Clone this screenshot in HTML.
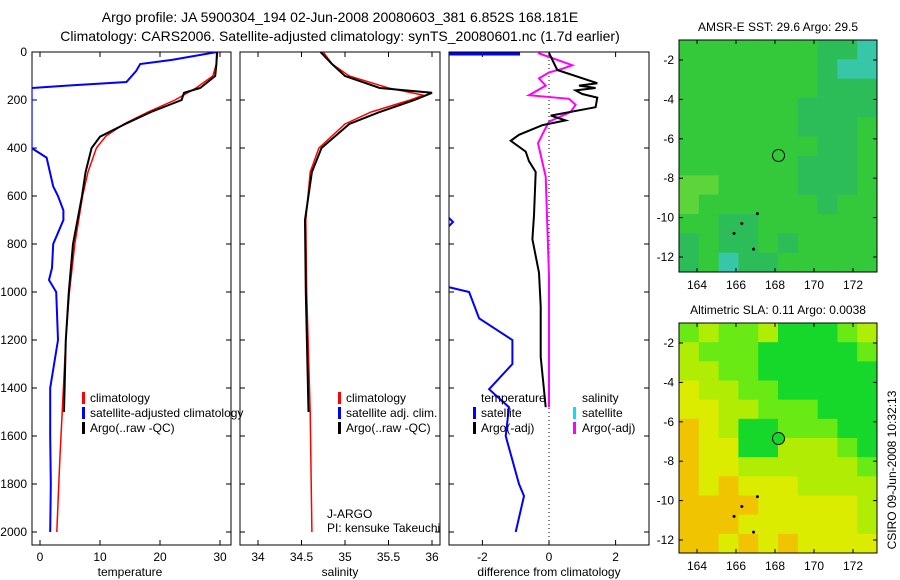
<!DOCTYPE html>
<html><head><meta charset="utf-8">
<style>
html,body{margin:0;padding:0;background:#fff;}
svg{display:block;font-family:"Liberation Sans",sans-serif;}
text{fill:#000;}
</style></head>
<body>
<svg id="fig" width="900" height="580" viewBox="0 0 900 580">
<text x="340" y="22" font-size="14" text-anchor="middle">Argo profile: JA 5900304_194 02-Jun-2008 20080603_381 6.852S 168.181E</text>
<text x="340" y="41" font-size="14" text-anchor="middle">Climatology: CARS2006. Satellite-adjusted climatology: synTS_20080601.nc (1.7d earlier)</text>
<g id="g"></g>
</svg>
<script>
// ---------- data ----------
const tempDepth = [0,50,100,150,170,200,250,300,353,400,500,600,800,1000,1200,1500];
const tempArgo  = [29.5,29.4,29.2,26.7,24,23.6,18.5,14.2,10,8.6,7.6,7,5.5,4.8,4.3,4.0];
const climDepth = [0,50,100,150,200,250,300,350,400,500,600,800,1000,1200,1450,1700,2000];
const tempClim  = [29.6,29.4,28.8,26,22.5,18,14,11,9.4,8,7.1,5.8,4.9,4.3,3.8,3.3,2.8];
const satDepth  = [0,33,50,80,125,140,150,400,440,560,600,660,700,800,900,950,1000,1200,1400,1600,1800,2000];
const tempSat   = [29.5,22,16.7,16,14.4,4.5,-1.4,-1.4,1.1,2.2,3,3.9,3.9,2.2,2,1.5,2.7,3,1.7,1.7,1.8,1.7];
const salDepth  = [0,50,100,150,170,200,250,300,400,500,700,1000,1500];
const salArgo   = [34.72,34.85,35.0,35.4,36.0,35.8,35.4,35.05,34.73,34.62,34.54,34.55,34.58];
const salClimDepth = [0,50,100,150,180,200,250,300,400,500,700,1000,1500,2000];
const salClim   = [34.75,34.85,35.05,35.5,35.9,35.75,35.3,35.0,34.7,34.6,34.55,34.56,34.6,34.62];
const dTDepth   = [4,75,130,140,150,160,175,190,230,265,285,305,345,370,415,455,500,680,780,920,1060,1270,1480];
const dTArgo    = [0,0.25,1.45,0.9,1.4,0.8,1.0,1.45,1.4,0.05,0.5,-0.2,-0.9,-1.15,-0.7,-0.6,-0.4,-0.45,-0.5,-0.3,-0.25,-0.25,-0.1];
const dSDepth   = [4,55,70,85,110,140,180,195,220,250,290,330,380,520,935,1480];
const dSArgo    = [-0.33,0.7,0.4,0,-0.3,-0.1,-0.6,0.6,0.8,0.65,0,-0.15,-0.33,-0.1,0,0];
const dSatDepth = [980,1000,1110,1200,1300,1405,1480,1600,1800,1850,2000];
const dTSat     = [-3,-2.4,-2.1,-1.1,-1.1,-1.8,-1.2,-1.3,-0.9,-0.75,-1.0];
const depthTicks = [0,200,400,600,800,1000,1200,1400,1600,1800,2000];
const tempTicks = [0,10,20,30];
const salTicks = [34,34.5,35,35.5,36];
const diffTicks = [-2,0,2];
const lonTicks = [164,166,168,170,172];
const latTicks = [-2,-4,-6,-8,-10,-12];
const sstGrid = ["GGGGGGGTTC","GGGGGGGTCC","GGGGGGGTTT","GGGGGGTTTT","GGGGGGTTTG","GGGGGGGTTG","GGGGGGTTTG","LLGGGGTTTG","LGGGGGGTGG","GGTTGGGGGG","TGTTGTGGGG","TGCTTGGGGG"];
const slaGrid = ["gYggYDDDgY","YgggDDDDDg","YYggDDDDDD","yYYggDDDDD","yyYYgggDDD","OyYDDgggDD","OyyDDYYYgD","OyyYYYYYYg","OyOyyyYYYY","OOOOyyyyyY","OOOyyyyyyY","OOyOyOyyyy"];
const palette = {G:"#33c93a",T:"#2cbd58",C:"#38c6a8",L:"#5cd43a",D:"#16d82a",g:"#6aea14",Y:"#b0ec04",y:"#dcec00",O:"#f0c400"};

// ---------- helpers ----------
const NS="http://www.w3.org/2000/svg";
const G=document.getElementById('g');
function el(tag,attrs,parent){const e=document.createElementNS(NS,tag);for(const k in attrs)e.setAttribute(k,attrs[k]);(parent||G).appendChild(e);return e;}
const Y0=52, PXM=0.24;
const yD=d=>Y0+d*PXM;
function panel(x0,x1,name){
  const r=el('rect',{x:x0,y:Y0,width:x1-x0,height:545-Y0,fill:'none',stroke:'#000','stroke-width':1});
  
  
  depthTicks.forEach(d=>{el('line',{x1:x0,x2:x0+5,y1:yD(d),y2:yD(d),stroke:'#000'});el('line',{x1:x1,x2:x1-5,y1:yD(d),y2:yD(d),stroke:'#000'});});
}
function xticks(vals,fx,name){
  vals.forEach(v=>{const x=fx(v);el('line',{x1:x,x2:x,y1:545,y2:540,stroke:'#000'});el('line',{x1:x,x2:x,y1:Y0,y2:Y0+5,stroke:'#000'});
    const t=el('text',{x:x,y:561,'font-size':12,'text-anchor':'middle'});t.textContent=String(v);
    
    });
}
function txt(x,y,s,name,size,anchor){const t=el('text',{x:x,y:y,'font-size':size||12,'text-anchor':anchor||'start'});t.textContent=s;
  
  return t;}
function mark(x,y,c){el('rect',{x:x,y:y-10,width:3,height:12,fill:c});}
function series(g,ds,vs,fx,color,w,name){
  const p=ds.map((d,i)=>fx(vs[i]).toFixed(1)+','+yD(d).toFixed(1)).join(' ');
  const e=el('polyline',{points:p,fill:'none',stroke:color,'stroke-width':w},g);
  
  
}

const defs=el('defs',{});
[[1,32,231],[2,240,440],[3,449,649]].forEach(([i,a,b])=>{const c=el('clipPath',{id:'c'+i},defs);el('rect',{x:a,y:Y0,width:b-a,height:545-Y0},c);});

// ---------- panel 1 temperature ----------
const fT=v=>40+v*6;
panel(32,231,'temperature-panel');
depthTicks.forEach(d=>txt(27,yD(d)+4,String(d),'depth-tick-label',12,'end'));
xticks(tempTicks,fT,'temperature-tick-label');
txt(130,576,'temperature','temperature-axis-title',12,'middle');
const g1=el('g',{'clip-path':'url(#c1)'});
series(g1,satDepth,tempSat,fT,'#0000ff',2,'temp-satellite-line');
series(g1,climDepth,tempClim,fT,'#ff0000',1.5,'temp-climatology-line');
series(g1,tempDepth,tempArgo,fT,'#000',2,'temp-argo-line');
mark(82,402,'#ff0000');txt(90,402,'climatology','legend-climatology');
mark(82,417,'#0000ff');txt(90,417,'satellite-adjusted climatology','legend-satellite');
mark(82,432,'#000');txt(90,432,'Argo(..raw -QC)','legend-argo');

// ---------- panel 2 salinity ----------
const fS=v=>258+(v-34)*87;
panel(240,440,'salinity-panel');
xticks(salTicks,fS,'salinity-tick-label');
txt(340,576,'salinity','salinity-axis-title',12,'middle');
const g2=el('g',{'clip-path':'url(#c2)'});
series(g2,salClimDepth,salClim,fS,'#ff0000',1.5,'sal-climatology-line');
series(g2,salDepth,salArgo,fS,'#000',2,'sal-argo-line');
mark(338,402,'#ff0000');txt(346,402,'climatology','legend-climatology');
mark(338,417,'#0000ff');txt(346,417,'satellite adj. clim.','legend-satellite');
mark(338,432,'#000');txt(346,432,'Argo(..raw -QC)','legend-argo');
txt(327,518,'J-ARGO','float-program-label');
txt(327,532,'PI: kensuke Takeuchi','pi-label');

// ---------- panel 3 differences ----------
const fD=v=>549+v*33.3;
panel(449,649,'difference-panel');
xticks(diffTicks,fD,'difference-tick-label');
txt(549,576,'difference from climatology','difference-axis-title',12,'middle');
el('line',{x1:549,x2:549,y1:Y0,y2:545,stroke:'#000','stroke-dasharray':'1,3'});
const g3=el('g',{'clip-path':'url(#c3)'});
el('line',{x1:449,x2:520,y1:54,y2:54,stroke:'#0000ff','stroke-width':3},g3);
el('polyline',{points:'449,218 453,222 449,226',fill:'none',stroke:'#0000ff','stroke-width':2},g3);
series(g3,dSatDepth,dTSat,fD,'#0000ff',2,'diff-temp-satellite-line');
series(g3,dSDepth,dSArgo,fD,'#ff00ff',2,'diff-sal-argo-line');
series(g3,dTDepth,dTArgo,fD,'#000',2,'diff-temp-argo-line');
txt(481,402,'temperature','legend-temperature-header');
txt(582,402,'salinity','legend-salinity-header');
mark(473,417,'#0000ff');txt(481,417,'satellite','legend-temp-satellite');
mark(473,432,'#000');txt(481,432,'Argo(-adj)','legend-temp-argo');
mark(573,417,'#00e5ee');txt(582,417,'satellite','legend-sal-satellite');
mark(573,432,'#ff00ff');txt(582,432,'Argo(-adj)','legend-sal-argo');

// ---------- maps ----------
function map(y0,y1,grid,title,name,filled){
  const x0=679,x1=877, lonX=v=>697+(v-164)*19.5;
  const latY=v=>(y0+20)+(-2-v)*19.7;
  const rows=grid.length, cols=grid[0].length, cw=(x1-x0)/cols, ch=(y1-y0)/rows;
  grid.forEach((row,r)=>[...row].forEach((k,c)=>el('rect',{x:x0+c*cw,y:y0+r*ch,width:cw+0.5,height:ch+0.5,fill:palette[k]})));
  const b=el('rect',{x:x0,y:y0,width:x1-x0,height:y1-y0,fill:'none',stroke:'#000'});
  
  
  txt(778,y0-9,title,name+'-title',12,'middle');
  lonTicks.forEach(v=>{const x=lonX(v);el('line',{x1:x,x2:x,y1:y1,y2:y1-4,stroke:'#000'});el('line',{x1:x,x2:x,y1:y0,y2:y0+4,stroke:'#000'});txt(x,y1+17,String(v),'longitude-tick-label',12,'middle');});
  latTicks.forEach(v=>{const y=latY(v);el('line',{x1:x0,x2:x0+4,y1:y,y2:y,stroke:'#000'});el('line',{x1:x1,x2:x1-4,y1:y,y2:y,stroke:'#000'});txt(674,y+4,String(v),'latitude-tick-label',12,'end');});
  const c=el('circle',{cx:lonX(168.18),cy:latY(-6.85),r:6,fill:filled||'none',stroke:'#000'});
  
  
  [[165.9,-10.8],[166.3,-10.3],[166.9,-11.6],[167.1,-9.8]].forEach(p=>el('circle',{cx:lonX(p[0]),cy:latY(p[1]),r:1.5,fill:'#000'}));
}
map(40,272,sstGrid,'AMSR-E SST: 29.6 Argo: 29.5','sst-map');
map(323,553,slaGrid,'Altimetric SLA: 0.11 Argo: 0.0038','sla-map','#16d82a');
const rt=txt(0,0,'CSIRO 09-Jun-2008 10:32:13','timestamp-label',12,'middle');
rt.setAttribute('transform','translate(896,470) rotate(-90)');
</script>
</body></html>
